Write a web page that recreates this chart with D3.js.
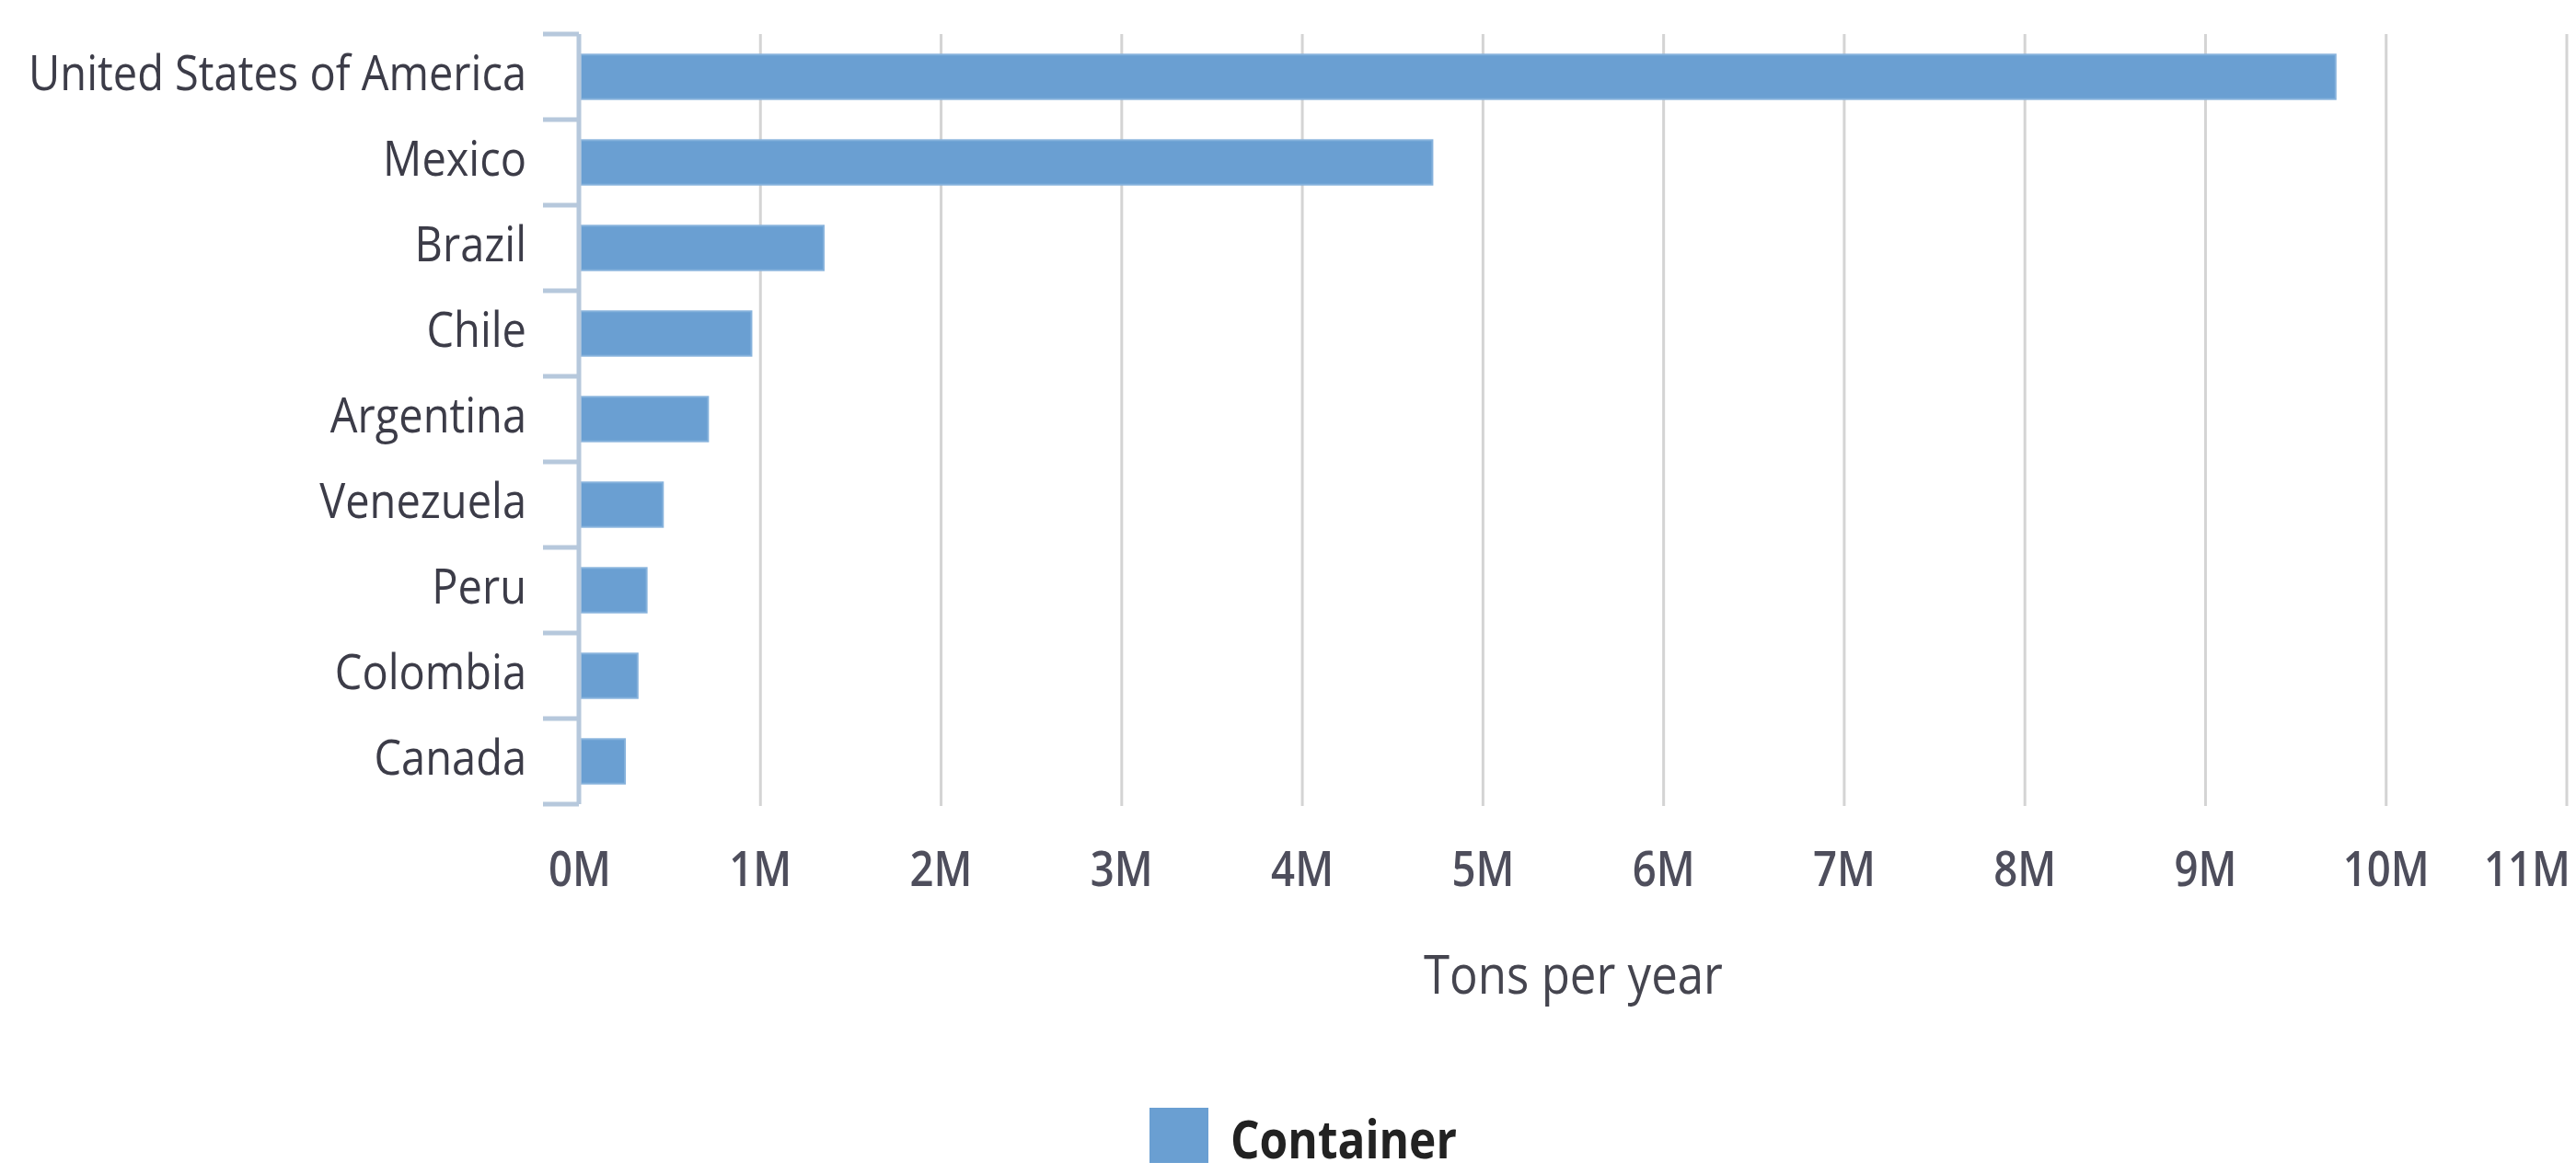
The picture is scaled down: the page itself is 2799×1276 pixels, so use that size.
<!DOCTYPE html>
<html>
<head>
<meta charset="utf-8">
<script src="https://cdn.jsdelivr.net/npm/d3@7"></script>
<style>
  html, body { margin: 0; padding: 0; background: #fff; }
  svg { display: block; }
</style>
</head>
<body>
<svg id="chart" width="2799" height="1276"></svg>
<script>
// ---- data ----
const categories = ["United States of America", "Mexico", "Brazil", "Chile", "Argentina", "Venezuela", "Peru", "Colombia", "Canada"];
const containerTons = [9720000, 4720000, 1350000, 950000, 710000, 460000, 370000, 320000, 250000];
const xTicks = [0, 1e6, 2e6, 3e6, 4e6, 5e6, 6e6, 7e6, 8e6, 9e6, 10e6, 11e6];
const xTickLabels = ["0M", "1M", "2M", "3M", "4M", "5M", "6M", "7M", "8M", "9M", "10M", "11M"];
const seriesName = "Container";
const axisTitle = "Tons per year";

// ---- layout ----
const W = 2799, H = 1276;
const plot = { left: 630, right: 2789, top: 37, bottom: 874 };
const FONT = "'Open Sans', 'Noto Sans', sans-serif";
const barColor = "#6a9fd2";
const axisColor = "#b6c8dc";

const svg = d3.select("#chart");
svg.append("rect").attr("width", W).attr("height", H).attr("fill", "#fff");

const x = d3.scaleLinear().domain([0, 11e6]).range([plot.left, plot.right]);
const y = d3.scaleBand().domain(categories).range([plot.top, plot.bottom])
  .paddingInner(0.48).paddingOuter(0.24);

const data = categories.map((c, i) => ({ name: c, value: containerTons[i] }));

// helper: measure text width
function measure(str, size, weight) {
  const t = svg.append("text").attr("font-family", FONT).attr("font-size", size)
    .attr("font-weight", weight).text(str);
  const w = t.node().getComputedTextLength();
  t.remove();
  return w;
}

// gridlines
const grid = svg.append("g");
grid.selectAll("line").data(xTicks.slice(1)).join("line")
  .attr("x1", d => x(d)).attr("x2", d => x(d))
  .attr("y1", plot.top).attr("y2", plot.bottom + 2)
  .attr("stroke", "#d4d4d4").attr("stroke-width", 3);

// bars
svg.append("g").selectAll("rect").data(data).join("rect")
  .attr("x", x(0) + 1)
  .attr("y", d => y(d.name))
  .attr("width", d => x(d.value) - x(0) - 1)
  .attr("height", y.bandwidth())
  .attr("fill", barColor)
  .attr("stroke", "#86b2dc").attr("stroke-width", 2);

// y axis line and ticks (category boundaries)
const step = y.step();
const y0 = y(categories[0]) - y.paddingInner() * step / 2;
const boundaries = d3.range(categories.length + 1).map(i => y0 + i * step);
const yAxis = svg.append("g");
yAxis.append("line")
  .attr("x1", plot.left - 1).attr("x2", plot.left - 1)
  .attr("y1", boundaries[0]).attr("y2", boundaries[boundaries.length - 1])
  .attr("stroke", axisColor).attr("stroke-width", 5);
yAxis.selectAll("line.tick").data(boundaries).join("line").attr("class", "tick")
  .attr("x1", plot.left - 40).attr("x2", plot.left - 1)
  .attr("y1", d => d).attr("y2", d => d)
  .attr("stroke", axisColor).attr("stroke-width", 5);

// category labels
const catSize = 53;
const catScale = 541 / measure(categories[0], catSize, 500);
svg.append("g").selectAll("g").data(categories).join("g")
  .attr("transform", d => `translate(${plot.left - 58},${y(d) + y.bandwidth() / 2 + 14}) scale(${catScale},1)`)
  .append("text")
  .attr("text-anchor", "end")
  .attr("font-family", FONT).attr("font-size", catSize).attr("font-weight", 500)
  .attr("fill", "#3c3c48")
  .text(d => d);

// x tick labels
const tickSize = 52;
const tickScale = 94 / measure("10M", tickSize, 600);
svg.append("g").selectAll("g").data(xTicks).join("g")
  .attr("transform", (d, i) => {
    const w = measure(xTickLabels[i], tickSize, 600) * tickScale;
    let cx = x(d);
    if (cx + w / 2 > W - 6) cx = W - 6 - w / 2;
    return `translate(${cx},963) scale(${tickScale},1)`;
  })
  .append("text")
  .attr("text-anchor", "middle")
  .attr("font-family", FONT).attr("font-size", tickSize).attr("font-weight", 600)
  .attr("fill", "#4e4e5c")
  .text((d, i) => xTickLabels[i]);

// axis title
const titleSize = 58;
const titleScale = 325 / measure(axisTitle, titleSize, 400);
svg.append("g")
  .attr("transform", `translate(${(plot.left + plot.right) / 2},1080) scale(${titleScale},1)`)
  .append("text")
  .attr("text-anchor", "middle")
  .attr("font-family", FONT).attr("font-size", titleSize).attr("font-weight", 400)
  .attr("fill", "#45454f")
  .text(axisTitle);

// legend
const legSize = 58;
const legScale = 246 / measure(seriesName, legSize, 700);
const legend = svg.append("g");
legend.append("rect")
  .attr("x", 1249).attr("y", 1204).attr("width", 64).attr("height", 60)
  .attr("fill", barColor);
legend.append("g")
  .attr("transform", `translate(1337,1259) scale(${legScale},1)`)
  .append("text")
  .attr("font-family", FONT).attr("font-size", legSize).attr("font-weight", 700)
  .attr("fill", "#222")
  .text(seriesName);
</script>
</body>
</html>
